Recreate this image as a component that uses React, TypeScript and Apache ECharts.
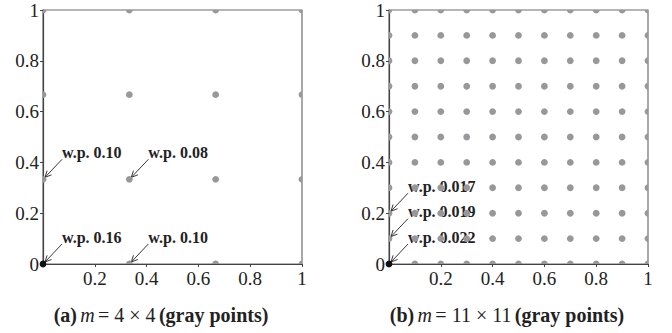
import React, { useEffect, useRef } from "react";
import * as echarts from "echarts";

// Grid coordinates of the gray candidate points in each panel
const leftGrid = [0, 1 / 3, 2 / 3, 1];
const rightGrid = [0, 0.1, 0.2, 0.3, 0.4, 0.5, 0.6, 0.7, 0.8, 0.9, 1];

// The selected point (black)
const origin: [number, number] = [0, 0];

// Tick labels (the shared 0 corner is labelled on the y axis only)
const xTickLabels = [0.2, 0.4, 0.6, 0.8, 1];
const yTickLabels = [0, 0.2, 0.4, 0.6, 0.8, 1];

// Probability callouts
const leftNotes = [
  { x: 0, y: 1 / 3, label: "w.p. 0.10" },
  { x: 1 / 3, y: 1 / 3, label: "w.p. 0.08" },
  { x: 0, y: 0, label: "w.p. 0.16" },
  { x: 1 / 3, y: 0, label: "w.p. 0.10" },
];
const rightNotes = [
  { x: 0, y: 0.2, label: "w.p. 0.017" },
  { x: 0, y: 0.1, label: "w.p. 0.019" },
  { x: 0, y: 0, label: "w.p. 0.022" },
];

const FONT = "Liberation Serif";
const GRAY = "#98989c";
const INK = "#222";
const TICK_SIZE = 19;

function gridPoints(vals: number[]): [number, number][] {
  const pts: [number, number][] = [];
  for (const x of vals)
    for (const y of vals) if (!(x === 0 && y === 0)) pts.push([x, y]);
  return pts;
}

function axis(gridIndex: number) {
  return {
    gridIndex,
    type: "value" as const,
    min: 0,
    max: 1,
    interval: 0.2,
    splitLine: { show: false },
    axisLine: { show: true, lineStyle: { color: "#444", width: 1.2 } },
    axisTick: { show: true, inside: false, length: 3, lineStyle: { color: "#444" } },
    axisLabel: { show: false },
  };
}

// Points drawn as a custom series so that the plot area clips them
function dotSeries(gridIndex: number, data: [number, number][], color: string, clip: boolean, z: number) {
  return {
    type: "custom",
    xAxisIndex: gridIndex,
    yAxisIndex: gridIndex,
    data,
    clip,
    z,
    encode: { x: 0, y: 1 },
    renderItem: (params: any, api: any) => {
      const p = api.coord([api.value(0), api.value(1)]);
      return {
        type: "circle",
        shape: { cx: p[0], cy: p[1], r: 3.4 },
        style: { fill: color },
      };
    },
  };
}

export default function App() {
  const ref = useRef<HTMLDivElement>(null);

  useEffect(() => {
    if (!ref.current) return;
    const chart = echarts.init(ref.current, null, { renderer: "svg" });
    const gridStyle = { show: true, borderColor: "#6f6f6f", borderWidth: 1.2, backgroundColor: "transparent" };

    chart.setOption({
      animation: false,
      grid: [
        { ...gridStyle, left: 43, right: 370, top: 10, bottom: 69 },
        { ...gridStyle, left: 389, right: 24, top: 10, bottom: 69 },
      ],
      xAxis: [axis(0), axis(1)],
      yAxis: [axis(0), axis(1)],
      series: [
        dotSeries(0, gridPoints(leftGrid), GRAY, true, 3),
        dotSeries(0, [origin], "#111", false, 4),
        dotSeries(1, gridPoints(rightGrid), GRAY, true, 3),
        dotSeries(1, [origin], "#111", false, 4),
      ],
    });

    const graphics: any[] = [];

    // Tick labels placed at the axes' own pixel positions
    for (const gridIndex of [0, 1]) {
      for (const v of xTickLabels) {
        const [px, py] = chart.convertToPixel({ gridIndex }, [v, 0]) as number[];
        graphics.push({
          type: "text",
          x: px,
          y: py + 5,
          style: {
            text: String(v),
            fontFamily: FONT,
            fontSize: TICK_SIZE,
            fill: INK,
            align: "center",
            verticalAlign: "top",
          },
        });
      }
      for (const v of yTickLabels) {
        const [px, py] = chart.convertToPixel({ gridIndex }, [0, v]) as number[];
        graphics.push({
          type: "text",
          x: px - 4,
          y: py,
          style: {
            text: String(v),
            fontFamily: FONT,
            fontSize: TICK_SIZE,
            fill: INK,
            align: "right",
            verticalAlign: "middle",
          },
        });
      }
    }

    // Callouts: an arrow from the label down to the annotated point
    const addNotes = (notes: typeof leftNotes, gridIndex: number) => {
      for (const n of notes) {
        const [px, py] = chart.convertToPixel({ gridIndex }, [n.x, n.y]) as number[];
        const sx = px + 19;
        const sy = py - 20;
        const ex = px + 2;
        const ey = py - 2;
        const ang = Math.atan2(ey - sy, ex - sx);
        const h = 7;
        const spread = 0.45;
        graphics.push({
          type: "line",
          shape: { x1: sx, y1: sy, x2: ex, y2: ey },
          style: { stroke: INK, lineWidth: 0.9 },
          z: 1,
        });
        graphics.push({
          type: "polyline",
          shape: {
            points: [
              [ex - h * Math.cos(ang - spread), ey - h * Math.sin(ang - spread)],
              [ex, ey],
              [ex - h * Math.cos(ang + spread), ey - h * Math.sin(ang + spread)],
            ],
          },
          style: { stroke: INK, lineWidth: 0.9, fill: null },
          z: 1,
        });
        graphics.push({
          type: "text",
          x: sx,
          y: py - 27,
          style: {
            text: n.label,
            fontFamily: FONT,
            fontSize: 16,
            fontWeight: "bold",
            fill: INK,
            align: "left",
            verticalAlign: "middle",
          },
          z: 1,
        });
      }
    };
    addNotes(leftNotes, 0);
    addNotes(rightNotes, 1);

    const caption = (x: number, tag: string, dims: string) => ({
      type: "text",
      x,
      y: 315,
      style: {
        text: `{b|${tag}} {i|m} {r|= ${dims}} {b|(gray points)}`,
        align: "center",
        verticalAlign: "middle",
        fill: INK,
        rich: {
          b: { fontFamily: FONT, fontSize: 20, fontWeight: "bold", fill: INK },
          i: { fontFamily: FONT, fontSize: 20, fontStyle: "italic", fill: INK },
          r: { fontFamily: FONT, fontSize: 20, fill: INK },
        },
      },
    });
    graphics.push(caption(161, "(a)", "4 × 4"));
    graphics.push(caption(507, "(b)", "11 × 11"));

    chart.setOption({ graphic: graphics });

    return () => chart.dispose();
  }, []);

  return (
    <div
      ref={ref}
      style={{ position: "absolute", left: 0, top: 0, width: 672, height: 333, background: "#fff" }}
    />
  );
}
